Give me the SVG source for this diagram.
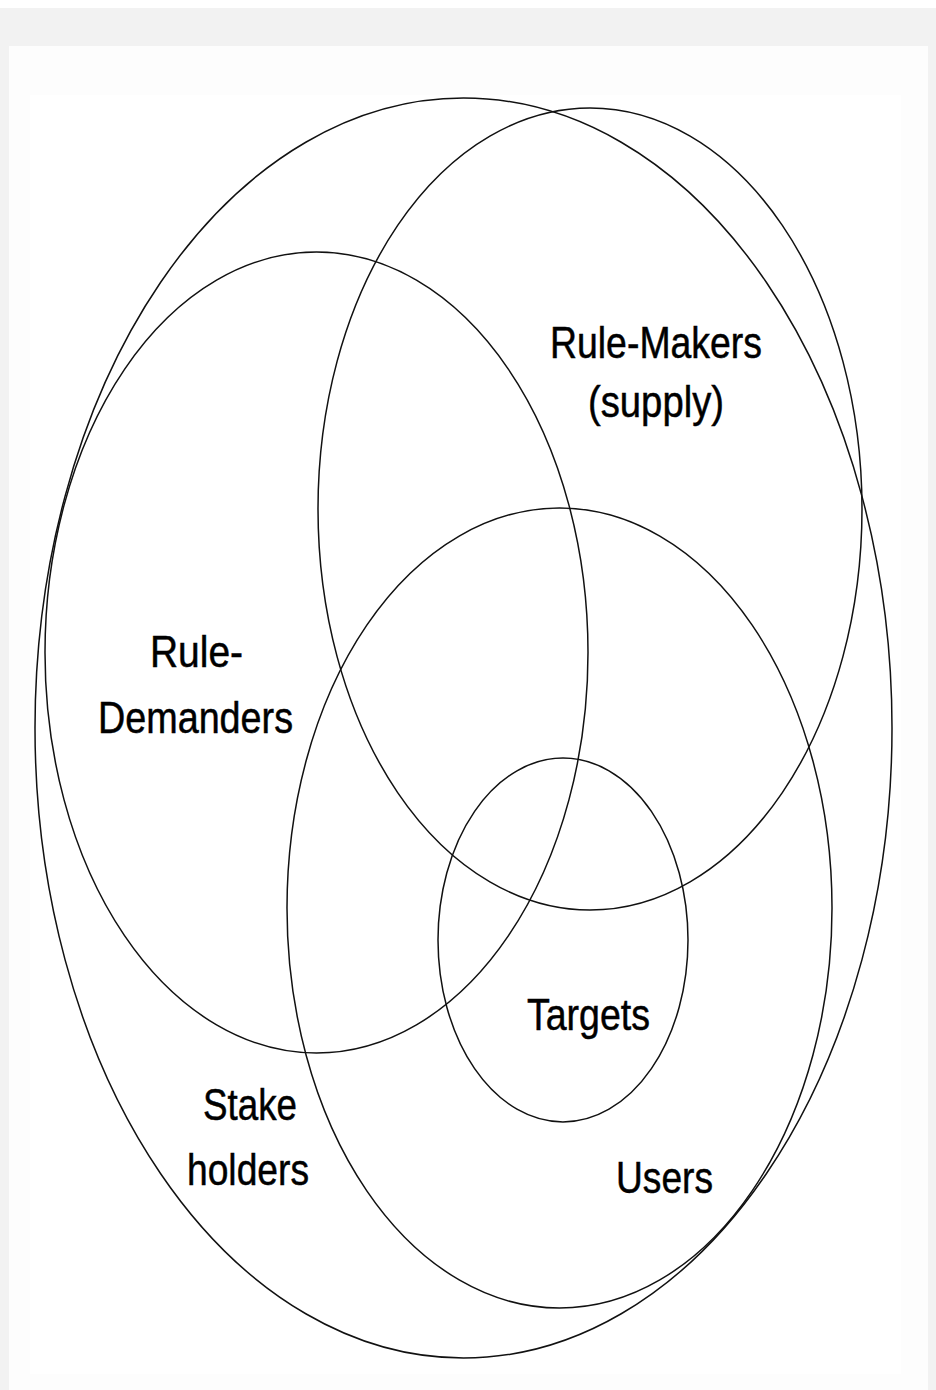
<svg xmlns="http://www.w3.org/2000/svg" width="936" height="1390" viewBox="0 0 936 1390">
<style>
.set{fill:none;stroke:#111;stroke-width:1.5}
.lbl{font-family:"Liberation Sans",Arial,sans-serif;font-size:44px;fill:#000;stroke:#000;stroke-width:0.5;text-anchor:middle}
</style>
<rect x="0" y="0" width="936" height="1390" fill="#ffffff"/>
<rect x="0" y="8" width="936" height="1382" fill="#f2f2f2"/>
<rect x="9" y="46" width="919" height="1344" fill="#fdfdfd"/>
<rect x="30" y="95" width="871" height="1279" fill="#ffffff"/>
<g id="stakeholders">
<ellipse class="set" cx="463.5" cy="728" rx="428.5" ry="630"/>
<text class="lbl" x="250" y="1120" textLength="94" lengthAdjust="spacingAndGlyphs">Stake</text>
<text class="lbl" x="248" y="1185" textLength="122" lengthAdjust="spacingAndGlyphs">holders</text>
</g>
<g id="rule-makers">
<ellipse class="set" cx="590" cy="509" rx="272" ry="401"/>
<text class="lbl" x="656" y="358" textLength="212" lengthAdjust="spacingAndGlyphs">Rule-Makers</text>
<text class="lbl" x="656" y="417" textLength="136" lengthAdjust="spacingAndGlyphs">(supply)</text>
</g>
<g id="rule-demanders">
<ellipse class="set" cx="316.5" cy="652.5" rx="271.5" ry="400.5"/>
<text class="lbl" x="196.5" y="667" textLength="93" lengthAdjust="spacingAndGlyphs">Rule-</text>
<text class="lbl" x="195.5" y="733" textLength="195" lengthAdjust="spacingAndGlyphs">Demanders</text>
</g>
<g id="users">
<ellipse class="set" cx="559.5" cy="908" rx="272.5" ry="400"/>
<text class="lbl" x="664.5" y="1193" textLength="97" lengthAdjust="spacingAndGlyphs">Users</text>
</g>
<g id="targets">
<ellipse class="set" cx="563" cy="940" rx="125" ry="182"/>
<text class="lbl" x="588.5" y="1030" textLength="123" lengthAdjust="spacingAndGlyphs">Targets</text>
</g>
<g id="connectors"></g>
</svg>
